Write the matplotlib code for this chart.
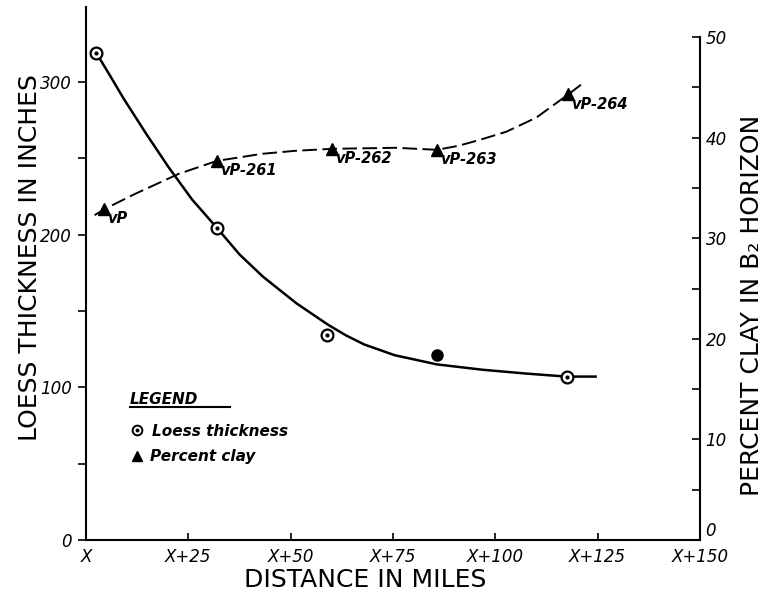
import matplotlib
matplotlib.use('Agg')
import matplotlib.pyplot as plt
from matplotlib.lines import Line2D

# hand lettering is narrow, so try a condensed face first
plt.rcParams['font.family'] = ['DejaVu Sans Condensed', 'Liberation Sans Narrow', 'DejaVu Sans']

# measured points, loess thickness (left axis)
loess_miles = [2.5, 32.1, 58.8, 85.7, 117.4]
loess_inches = [319, 204, 134, 121, 107]
loess_filled = [False, False, False, True, False]

# smooth hand drawn curve for loess thickness
loess_curve_miles = [2.5, 6.0, 9.2, 14.7, 20.2, 25.9, 32.1, 37.5, 43.2, 51.4, 59.1, 63.5, 68.0, 75.4, 85.7, 96.8, 107.4, 117.4, 124.5]
loess_curve_inches = [319, 303.5, 289, 266, 244, 223, 204, 187, 172.5, 155, 141, 134, 128, 121, 115, 111.5, 109, 107, 107]

# percent clay in B2 horizon (right axis)
clay_miles = [4.5, 32.0, 60.2, 85.8, 117.8]
clay_pct = [32.9, 37.7, 38.9, 38.8, 44.3]
clay_labels = ['vP', 'vP-261', 'vP-262', 'vP-263', 'vP-264']

# dashed curve for percent clay
clay_curve_miles = [2.1, 4.5, 11.9, 22.6, 32.0, 43.0, 51.1, 60.2, 75.7, 85.8, 91.0, 96.3, 102.7, 110.0, 117.8, 121.0]
clay_curve_pct = [32.3, 32.9, 34.4, 36.4, 37.7, 38.4, 38.7, 38.9, 39.0, 38.8, 39.2, 39.8, 40.6, 42.0, 44.3, 45.3]

x_ticks = [0, 25, 50, 75, 100, 125, 150]
x_tick_labels = ['X', 'X+25', 'X+50', 'X+75', 'X+100', 'X+125', 'X+150']
left_ticks = [0, 100, 200, 300]
right_ticks = [0, 10, 20, 30, 40, 50]

W, H = 774, 600
fig = plt.figure(figsize=(W / 100, H / 100), dpi=100)
ax = fig.add_axes([86 / W, 1 - 540 / H, 614 / W, 533 / H])
ax2 = ax.twinx()

ax.set_xlim(0, 150)
ax.set_ylim(0, 349)
ax2.set_ylim(0, 53)

# spines
for a in (ax, ax2):
    a.spines['top'].set_visible(False)
    for s in a.spines.values():
        s.set_linewidth(1.5)
ax.spines['right'].set_visible(False)
ax2.spines['left'].set_visible(False)
ax2.spines['bottom'].set_visible(False)
ax2.spines['right'].set_bounds(0, 50)

tick_font = dict(fontsize=12, fontstyle='italic')

ax.set_xticks(x_ticks)
ax.set_xticklabels(x_tick_labels, **tick_font)
ax.tick_params(axis='x', direction='in', length=5, width=1.2, pad=6)

ax.set_yticks(left_ticks)
ax.set_yticklabels([str(t) for t in left_ticks], **tick_font)
ax.set_yticks([50, 150, 250], minor=True)
ax.tick_params(axis='y', which='both', direction='out', length=6, width=1.2, pad=4)

ax2.set_yticks(right_ticks)
ax2.set_yticklabels([str(t) for t in right_ticks], **tick_font)
ax2.set_yticks([5, 15, 25, 35, 45], minor=True)
ax2.tick_params(axis='y', which='both', direction='in', length=6, width=1.2, pad=4)
# the right-hand "0" sits just above the X+150 label
ax2.get_yticklabels()[0].set_verticalalignment('bottom')

# loess thickness curve and points
ax.plot(loess_curve_miles, loess_curve_inches, color='black', lw=1.8, clip_on=False)
for m, v, filled in zip(loess_miles, loess_inches, loess_filled):
    if filled:
        ax.plot(m, v, 'o', color='black', markersize=8, zorder=5, clip_on=False)
    else:
        ax.plot(m, v, 'o', mfc='white', mec='black', mew=1.6, markersize=8.5, zorder=5, clip_on=False)
        ax.plot(m, v, 'o', color='black', markersize=2, zorder=6, clip_on=False)

# percent clay curve, triangles and site labels
ax2.plot(clay_curve_miles, clay_curve_pct, color='black', lw=1.4, linestyle=(0, (7.5, 2.8)), clip_on=False)
ax2.plot(clay_miles, clay_pct, '^', color='black', markersize=8, zorder=5, clip_on=False)
for m, v, lab in zip(clay_miles, clay_pct, clay_labels):
    ax2.annotate(lab, (m, v), xytext=(2, -7), textcoords='offset points',
                 ha='left', va='center', fontsize=10.5, fontstyle='italic', fontweight='bold',
                 family=['DejaVu Sans'])

# axis titles
title_font = dict(fontsize=18)
fig.text(30 / W, 1 - 258 / H, 'LOESS THICKNESS IN INCHES', rotation=90, ha='center', va='center', **title_font)
fig.text(752 / W, 1 - 305 / H, 'PERCENT CLAY IN B\u2082 HORIZON', rotation=90, ha='center', va='center', **title_font)
fig.text(365 / W, 1 - 580 / H, 'DISTANCE IN MILES', ha='center', va='center', **title_font)

# hand drawn legend
legend_font = dict(fontsize=11, fontstyle='italic', fontweight='bold', family=['DejaVu Sans'])
fig.text(130 / W, 1 - 400 / H, 'LEGEND', ha='left', va='center', **legend_font)
fig.add_artist(Line2D([130 / W, 230 / W], [1 - 407 / H, 1 - 407 / H], color='black', lw=1.5))
fig.add_artist(Line2D([137 / W], [1 - 430 / H], marker='o', mfc='white', mec='black', mew=1.4, markersize=7))
fig.add_artist(Line2D([137 / W], [1 - 430 / H], marker='o', color='black', markersize=1.8))
fig.text(152 / W, 1 - 431 / H, 'Loess thickness', ha='left', va='center', **legend_font)
fig.add_artist(Line2D([137 / W], [1 - 456 / H], marker='^', color='black', markersize=7))
fig.text(150 / W, 1 - 457 / H, 'Percent clay', ha='left', va='center', **legend_font)

fig.savefig('out.png', dpi=100)
